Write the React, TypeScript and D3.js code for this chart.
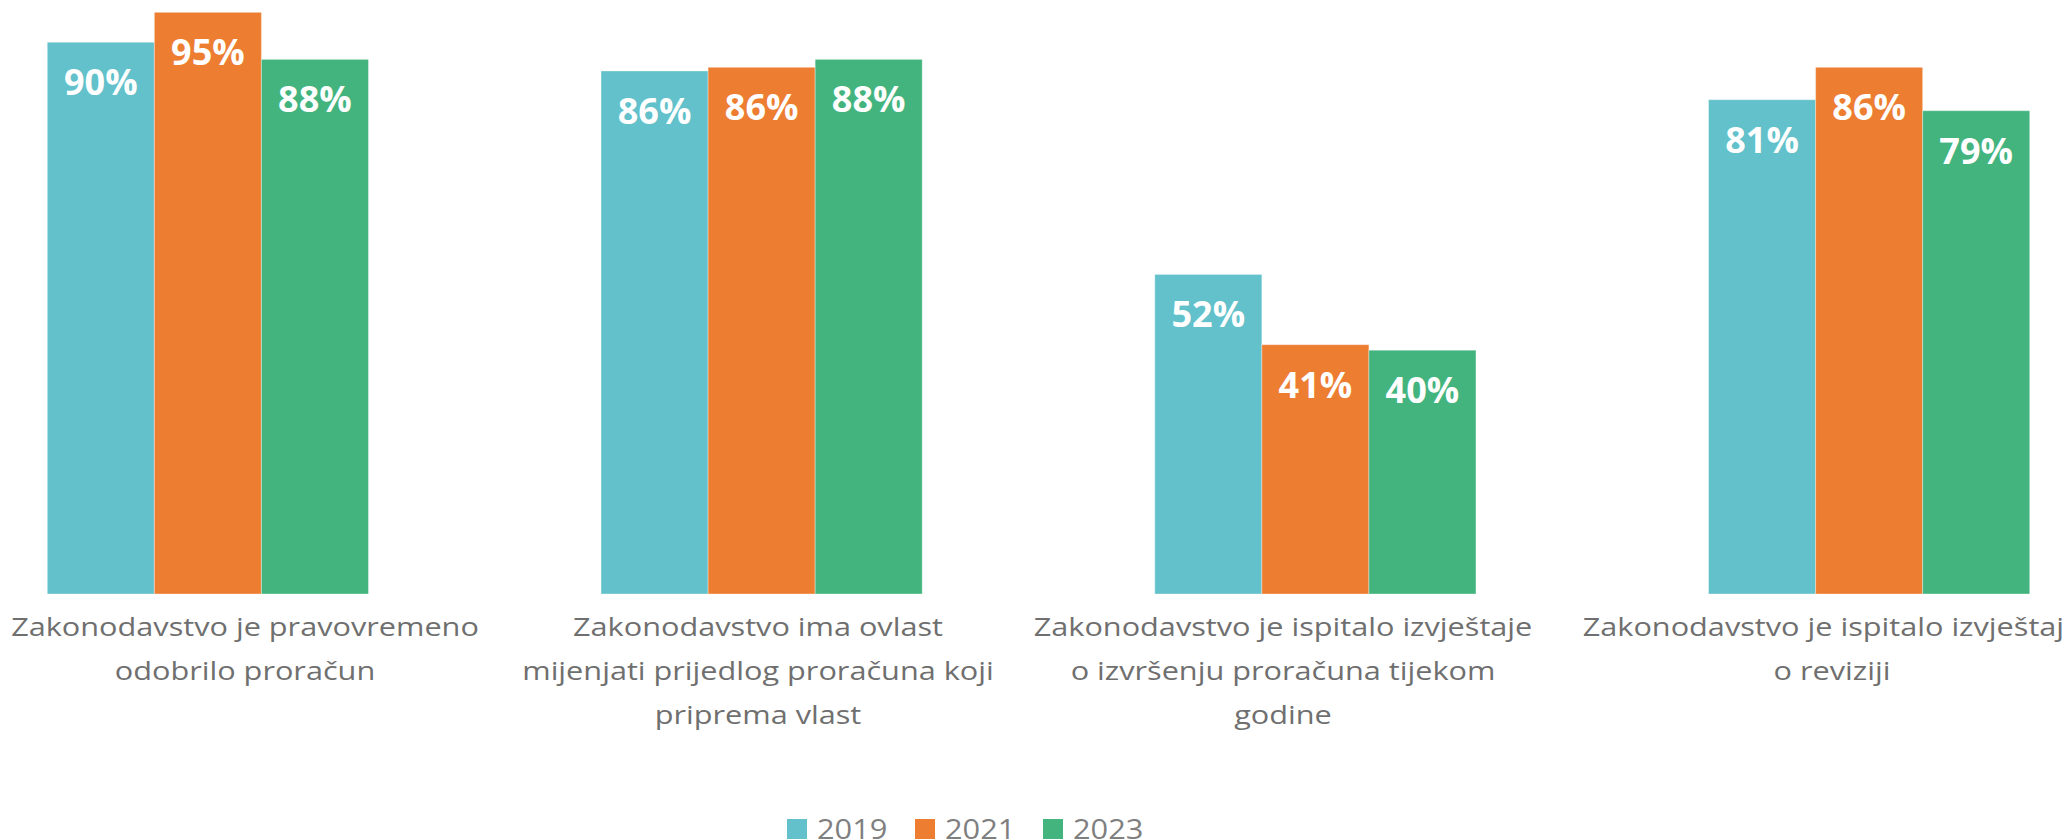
import React from "react";
import * as d3 from "d3";

const categories = [
  ["Zakonodavstvo je pravovremeno", "odobrilo proračun"],
  ["Zakonodavstvo ima ovlast", "mijenjati prijedlog proračuna koji", "priprema vlast"],
  ["Zakonodavstvo je ispitalo izvještaje", "o izvršenju proračuna tijekom", "godine"],
  ["Zakonodavstvo je ispitalo izvještaje", "o reviziji"],
];
const years = ["2019", "2021", "2023"];
const values2019 = [90.3, 85.6, 52.3, 80.9];
const values2021 = [95.2, 86.2, 40.8, 86.2];
const values2023 = [87.5, 87.5, 39.9, 79.1];
const colors = ["#62c1ca", "#ed7d31", "#44b47f"];

const W = 2062;
const H = 840;
const FONT = "'Open Sans', 'Segoe UI', sans-serif";

export default function App() {
  const series = [values2019, values2021, values2023];
  const ids = categories.map((_, i) => "c" + i);

  const x = d3.scaleBand().domain(ids).range([-69, 2146]).paddingInner(0.42).paddingOuter(0.21);
  const xi = d3.scaleBand().domain(years).range([0, x.bandwidth()]);
  const y = d3.scaleLinear().domain([0, 100]).range([594, -17]);
  // category labels in the source sit a little off the bar centres
  const labelX = d3.scaleOrdinal<string, number>().domain(ids).range([245, 758, 1283, 1832]);

  return (
    <svg width={W} height={H} style={{ position: "absolute", left: 0, top: 0, background: "#fff" }}>
      {ids.map((id, ci) => (
        <g key={id} transform={`translate(${x(id)},0)`}>
          {years.map((yr, si) => {
            const v = series[si][ci];
            const bx = xi(yr)!;
            return (
              <g key={yr}>
                <rect
                  x={bx}
                  y={y(v)}
                  width={xi.bandwidth()}
                  height={y(0) - y(v)}
                  fill={colors[si]}
                  stroke="#ffffff"
                  strokeOpacity={0.35}
                  strokeWidth={1}
                />
                <text
                  x={bx + xi.bandwidth() / 2}
                  y={y(v) + 53}
                  textAnchor="middle"
                  fill="#ffffff"
                  fontFamily={FONT}
                  fontWeight={700}
                  fontSize={36}
                >
                  {Math.round(v) + "%"}
                </text>
              </g>
            );
          })}
        </g>
      ))}

      {categories.map((lines, ci) => (
        <text
          key={"l" + ci}
          transform={`translate(${labelX(ids[ci])},636) scale(1.18,1)`}
          textAnchor="middle"
          fill="#6f6f6f"
          fontFamily={FONT}
          fontSize={26}
        >
          {lines.map((ln, li) => (
            <tspan key={li} x={0} dy={li === 0 ? 0 : 44}>
              {ln}
            </tspan>
          ))}
        </text>
      ))}

      <g transform="translate(787,819)">
        {years.map((yr, i) => (
          <g key={yr} transform={`translate(${i * 128},0)`}>
            <rect width={20} height={20} fill={colors[i]} />
            <text
              transform="translate(30,20) scale(1.1,1)"
              fill="#7f7f7f"
              fontFamily={FONT}
              fontSize={28}
            >
              {yr}
            </text>
          </g>
        ))}
      </g>
    </svg>
  );
}
